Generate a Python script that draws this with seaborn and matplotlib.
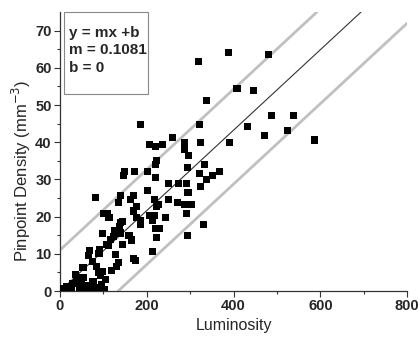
import numpy as np
import pandas as pd
import matplotlib
matplotlib.use('Agg')
import matplotlib.pyplot as plt
from matplotlib.patches import Rectangle
import seaborn as sns

# luminosity / pinpoint density values
luminosity = [
    388, 481, 320, 408, 446, 337, 488, 538, 432, 525, 471, 587, 322, 324, 390,
    333, 322, 351, 368, 337, 324, 330,
    185, 260, 286, 207, 220, 236, 288, 297, 222, 221, 293, 149, 147, 172, 201,
    220, 250, 273, 291, 295, 201, 139, 82, 162, 170, 134, 217, 250, 270, 287,
    303, 226, 222, 176, 170, 109, 101, 113, 177, 207, 218, 214, 244, 291, 186,
    186, 139, 138, 125, 123, 139, 220, 230, 222, 293, 98, 159, 165, 145, 116,
    107, 111, 92, 90, 67, 65, 213, 174, 170, 134, 131, 128, 75, 84, 88, 99, 93,
    53, 53, 38, 30, 49, 62, 76, 15, 3, 76, 36, 21, 80, 60, 45, 8, 27, 70, 90,
    145, 118, 104, 96, 102,
]
density = [
    64.1, 63.5, 61.7, 54.4, 53.8, 51.3, 47.2, 47.2, 44.2, 43.1, 41.7, 40.6, 44.7,
    40.0, 40.0, 34.0, 31.5, 31.1, 32.1, 29.9, 28.2, 18.0,
    44.8, 41.2, 39.9, 39.4, 38.9, 39.4, 38.1, 36.4, 35.1, 34.0, 33.3, 32.2, 31.1,
    32.2, 32.2, 30.5, 28.9, 28.9, 28.9, 26.4, 27.1, 25.7, 25.1, 24.6, 25.7, 23.9,
    24.6, 24.6, 23.9, 23.3, 23.3, 23.3, 22.6, 22.6, 21.5, 20.8, 20.8, 19.8, 19.8,
    20.4, 20.4, 19.0, 19.8, 20.8, 19.0, 18.0, 18.5, 17.2, 16.2, 14.6, 15.6, 16.8,
    16.8, 14.4, 15.0, 15.5, 15.0, 13.7, 12.6, 13.9, 12.6, 12.3, 11.2, 10.1, 10.8,
    9.5, 10.7, 8.1, 8.8, 7.6, 6.5, 9.7, 8.0, 6.5, 4.9, 5.2, 4.3, 6.2, 3.7, 2.9,
    2.1, 2.2, 1.5, 0.7, 1.2, 0.7, 2.5, 4.5, 0.7, 0.7, 0.3, 0.9, 0.3, 0.5, 1.5,
    1.0, 18.8, 5.5, 3.0, 1.8, 0.4,
]

slope = 0.1081
intercepts = [0, 11, -14.5]          # fit line, upper and lower bands
line_colors = ['#333333', '#c0c0c0', '#c0c0c0']
line_widths = [0.8, 2.0, 2.0]

df = pd.DataFrame({'Luminosity': luminosity, 'Density': density})

sns.set_style('ticks')
plt.rcParams['font.family'] = ['Liberation Sans', 'DejaVu Sans']

fig = plt.figure(figsize=(4.18, 3.43), dpi=100)
ax = fig.add_axes([0.1435, 0.1516, 0.8305, 0.8134])

for b, c, lw in zip(intercepts, line_colors, line_widths):
    ax.axline((0, b), slope=slope, color=c, lw=lw, zorder=1)

sns.scatterplot(data=df, x='Luminosity', y='Density', marker='s', s=26,
                color='black', edgecolor='none', ax=ax, zorder=3)

ax.set_xlim(0, 800)
ax.set_ylim(0, 75)
ax.set_xticks([0, 200, 400, 600, 800])
ax.set_xticks([100, 300, 500, 700], minor=True)
ax.set_yticks(np.arange(0, 71, 10))
ax.set_yticks(np.arange(5, 75, 10), minor=True)
for lab in ax.get_xticklabels() + ax.get_yticklabels():
    lab.set_fontweight('bold')
ax.tick_params(axis='both', which='major', labelsize=10.5, length=4, width=0.8,
               color='#333333', pad=2)
ax.tick_params(axis='both', which='minor', length=2.5, width=0.8, color='#333333')
for sp in ['left', 'bottom']:
    ax.spines[sp].set_color('#333333')
    ax.spines[sp].set_linewidth(0.9)
sns.despine(ax=ax)

ax.set_xlabel('Luminosity', fontsize=11.5, labelpad=3)
ax.set_ylabel('Pinpoint Density (mm$^{-3}$)', fontsize=12)
ax.yaxis.set_label_coords(-0.079, 0.43)

# equation box
ax.add_patch(Rectangle((0.011, 0.706), 0.242, 0.294, transform=ax.transAxes,
                       fc='white', ec='#888888', lw=0.8, zorder=5,
                       clip_on=False))
ax.text(0.027, 0.95, 'y = mx +b\nm = %.4f\nb = %d' % (slope, intercepts[0]),
        transform=ax.transAxes, ha='left', va='top', fontsize=11,
        fontweight='bold', linespacing=1.3, zorder=6)

fig.savefig('out.png', dpi=100)
